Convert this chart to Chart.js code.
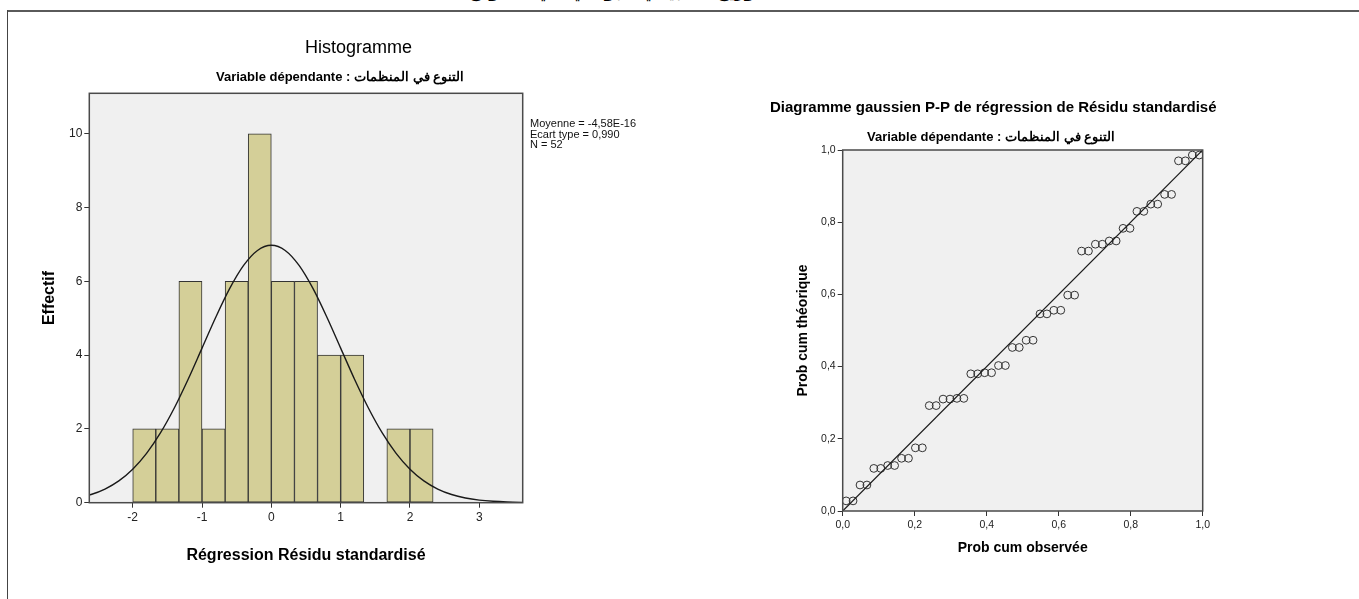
<!DOCTYPE html>
<html>
<head>
<meta charset="utf-8">
<script src="https://cdn.jsdelivr.net/npm/chart.js@4.4.1/dist/chart.umd.min.js"></script>
<style>
body { margin: 0; background: #fff; }
#page { position: relative; width: 1359px; height: 599px; overflow: hidden; background: #fff;
        font-family: "Liberation Sans", Arial, sans-serif; color: #000; }
.txt { position: absolute; white-space: nowrap; line-height: 1; }
canvas { position: absolute; top: 0; }
</style>
</head>
<body>
<div id="page">
  <div class="txt" style="left:0;width:1359px;top:-19px;text-align:center;font:bold 17px 'DejaVu Sans';color:#000;" dir="rtl">الشكل الثالث التوزيع الطبيعي للبواقي في النموذج</div>
  <div style="position:absolute;left:7px;top:10px;width:1352px;height:2px;background:#5a5a5a"></div>
  <div style="position:absolute;left:7px;top:10px;width:1px;height:589px;background:#444"></div>

  <canvas id="hist" width="700" height="599" style="left:0"></canvas>
  <canvas id="pp" width="659" height="599" style="left:700px"></canvas>

  <div class="txt" style="left:305px;top:38px;font-size:18px;">Histogramme</div>
  <div class="txt" style="left:216px;top:70px;font-size:13px;font-weight:bold;" dir="ltr">Variable dépendante : التنوع في المنظمات</div>
  <div class="txt" style="left:530px;top:118px;font-size:11px;line-height:10.5px;color:#111;">Moyenne = -4,58E-16<br>Ecart type = 0,990<br>N = 52</div>

  <div class="txt" style="left:770px;top:99px;font-size:15px;font-weight:bold;">Diagramme gaussien P-P de régression de Résidu standardisé</div>
  <div class="txt" style="left:867px;top:130px;font-size:13px;font-weight:bold;" dir="ltr">Variable dépendante : التنوع في المنظمات</div>
</div>

<script>
// histogram bins (width 1/3) and counts
const binCenters = [-1.833, -1.5, -1.167, -0.833, -0.5, -0.167, 0.167, 0.5, 0.833, 1.167, 1.5, 1.833, 2.167];
const binCounts  = [2, 2, 6, 2, 6, 10, 6, 6, 4, 4, 0, 2, 2];

// normal curve
const curveX = [-2.8, -2.6, -2.4, -2.2, -2.0, -1.8, -1.6, -1.4, -1.2, -1.0, -0.8, -0.6, -0.4, -0.2,
                0, 0.2, 0.4, 0.6, 0.8, 1.0, 1.2, 1.4, 1.6, 1.8, 2.0, 2.2, 2.4, 2.6, 2.8, 3.0, 3.2, 3.4, 3.6, 3.8];
const curveY = [0.128, 0.222, 0.370, 0.591, 0.907, 1.337, 1.891, 2.568, 3.348, 4.191, 5.035, 5.809, 6.433, 6.839,
                6.980, 6.839, 6.433, 5.809, 5.035, 4.191, 3.348, 2.568, 1.891, 1.337, 0.907, 0.591, 0.370, 0.222,
                0.128, 0.071, 0.038, 0.019, 0.009, 0.004];

const histXTicks = [-2, -1, 0, 1, 2, 3];
const histYTicks = [0, 2, 4, 6, 8, 10];

// P-P plot
const obsProb = [0.0096, 0.0288, 0.0481, 0.0673, 0.0865, 0.1058, 0.1250, 0.1442, 0.1635, 0.1827,
                 0.2019, 0.2212, 0.2404, 0.2596, 0.2788, 0.2981, 0.3173, 0.3365, 0.3558, 0.3750,
                 0.3942, 0.4135, 0.4327, 0.4519, 0.4712, 0.4904, 0.5096, 0.5288, 0.5481, 0.5673,
                 0.5865, 0.6058, 0.6250, 0.6442, 0.6635, 0.6827, 0.7019, 0.7212, 0.7404, 0.7596,
                 0.7788, 0.7981, 0.8173, 0.8365, 0.8558, 0.8750, 0.8942, 0.9135, 0.9327, 0.9519,
                 0.9712, 0.9904];
const expProb = [0.028, 0.028, 0.072, 0.072, 0.118, 0.118, 0.126, 0.126, 0.146, 0.146,
                 0.175, 0.175, 0.292, 0.292, 0.310, 0.310, 0.312, 0.312, 0.380, 0.380,
                 0.383, 0.383, 0.403, 0.403, 0.453, 0.453, 0.473, 0.473, 0.546, 0.546,
                 0.556, 0.556, 0.598, 0.598, 0.720, 0.720, 0.739, 0.739, 0.748, 0.748,
                 0.783, 0.783, 0.830, 0.830, 0.850, 0.850, 0.877, 0.877, 0.970, 0.970,
                 0.986, 0.986];
const refLine = [0, 1];
const ppTicks = [0, 0.2, 0.4, 0.6, 0.8, 1.0];

Chart.defaults.font.family = '"Liberation Sans", Arial, sans-serif';
Chart.defaults.color = '#222';

const plotFrame = {
    id: 'plotFrame',
    beforeDatasetsDraw(chart) {
        const { ctx, chartArea: a } = chart;
        ctx.save();
        ctx.fillStyle = '#f0f0f0';
        ctx.fillRect(a.left, a.top, a.width, a.height);
        ctx.restore();
    },
    afterDatasetsDraw(chart) {
        const { ctx, chartArea: a } = chart;
        ctx.save();
        ctx.strokeStyle = '#4a4a4a';
        ctx.lineWidth = 1.5;
        ctx.strokeRect(a.left, a.top, a.width, a.height);
        ctx.restore();
    }
};

function fixedTicks(list) {
    return axis => { axis.ticks = list.map(v => ({ value: v })); };
}
function comma(v) {
    return v.toFixed(1).replace('.', ',');
}
const tickGrid = { drawOnChartArea: false, drawTicks: true, tickLength: 5, color: '#333' };

new Chart(document.getElementById('hist'), {
    type: 'bar',
    data: {
        datasets: [
            {
                type: 'line',
                data: curveX.map((x, i) => ({ x: x, y: curveY[i] })),
                borderColor: '#1a1a1a',
                borderWidth: 1.4,
                pointRadius: 0,
                tension: 0.4,
                cubicInterpolationMode: 'monotone',
                order: 0
            },
            {
                data: binCenters.map((x, i) => ({ x: x, y: binCounts[i] })),
                backgroundColor: '#d4cf98',
                borderColor: '#333',
                borderWidth: 1,
                borderSkipped: false,
                barPercentage: 1,
                categoryPercentage: 1,
                order: 1
            }
        ]
    },
    options: {
        responsive: false,
        animation: false,
        devicePixelRatio: 1,
        layout: { padding: { left: 36.4, top: 93.3, right: 177.3, bottom: 29.4 } },
        plugins: { legend: { display: false }, tooltip: { enabled: false } },
        scales: {
            x: {
                type: 'linear', offset: false, min: -2.626, max: 3.626,
                afterBuildTicks: fixedTicks(histXTicks),
                afterFit: axis => { axis.height = 66.9; },
                grid: { ...tickGrid, offset: false },
                border: { display: false },
                ticks: { font: { size: 12 }, padding: 3, maxRotation: 0 },
                title: { display: true, text: 'Régression Résidu standardisé', font: { size: 16, weight: 'bold' }, color: '#000' }
            },
            y: {
                min: 0, max: 11.1,
                afterBuildTicks: fixedTicks(histYTicks),
                afterFit: axis => { axis.width = 52.9; },
                grid: tickGrid,
                border: { display: false },
                ticks: { font: { size: 12 }, padding: 2 },
                title: { display: true, text: 'Effectif', font: { size: 16, weight: 'bold' }, color: '#000' }
            }
        }
    },
    plugins: [plotFrame]
});

new Chart(document.getElementById('pp'), {
    type: 'scatter',
    data: {
        datasets: [
            {
                type: 'line',
                data: refLine.map(v => ({ x: v, y: v })),
                borderColor: '#1a1a1a',
                borderWidth: 1.2,
                pointRadius: 0,
                order: 0
            },
            {
                data: obsProb.map((x, i) => ({ x: x, y: expProb[i] })),
                pointStyle: 'circle',
                pointRadius: 3.9,
                pointBackgroundColor: 'rgba(0,0,0,0)',
                pointBorderColor: '#333',
                pointBorderWidth: 1,
                order: 1
            }
        ]
    },
    options: {
        responsive: false,
        animation: false,
        devicePixelRatio: 1,
        layout: { padding: { left: 90.6, top: 150, right: 156.3, bottom: 38.6 } },
        plugins: { legend: { display: false }, tooltip: { enabled: false } },
        scales: {
            x: {
                type: 'linear', min: 0, max: 1,
                afterBuildTicks: fixedTicks(ppTicks),
                afterFit: axis => { axis.height = 49.4; },
                grid: tickGrid,
                border: { display: false },
                ticks: { font: { size: 10.5 }, padding: 3, maxRotation: 0, callback: comma },
                title: { display: true, text: 'Prob cum observée', font: { size: 14, weight: 'bold' }, color: '#000' }
            },
            y: {
                type: 'linear', min: 0, max: 1,
                afterBuildTicks: fixedTicks(ppTicks),
                afterFit: axis => { axis.width = 52.1; },
                grid: tickGrid,
                border: { display: false },
                ticks: { font: { size: 10.5 }, padding: 2, callback: comma },
                title: { display: true, text: 'Prob cum théorique', font: { size: 14, weight: 'bold' }, color: '#000' }
            }
        }
    },
    plugins: [plotFrame]
});
</script>
</body>
</html>
